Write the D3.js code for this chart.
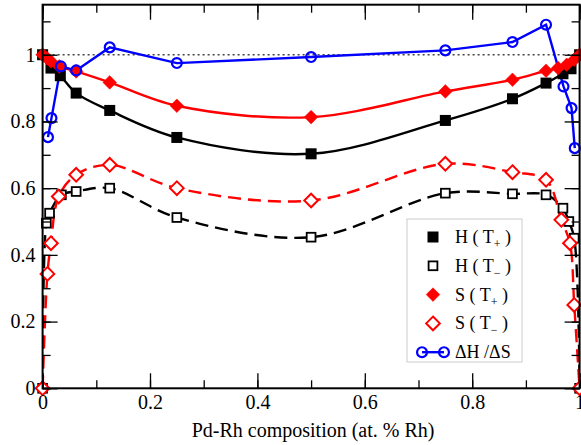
<!DOCTYPE html>
<html>
<head>
<meta charset="utf-8">
<script src="https://cdn.jsdelivr.net/npm/d3@7"></script>
<style>
  body { margin: 0; background: #fff; }
  svg { display: block; font-family: "Liberation Serif", "Times New Roman", serif; }
</style>
</head>
<body>
<div id="chart"></div>
<script>
// H(T+) : filled squares, solid black
const hPlusX = [0, 0.0156, 0.033, 0.0625, 0.125, 0.25, 0.5, 0.75, 0.875, 0.9375, 0.969, 0.984, 1];
const hPlusY = [1.0, 0.96, 0.937, 0.885, 0.833, 0.752, 0.703, 0.803, 0.868, 0.915, 0.943, 0.958, 1.0];

// H(T-) : open squares, dashed black
const hMinusX = [0, 0.007, 0.013, 0.035, 0.0625, 0.125, 0.25, 0.5, 0.75, 0.875, 0.9375, 0.969, 0.98, 0.99, 1];
const hMinusY = [0, 0.495, 0.525, 0.58, 0.59, 0.6, 0.512, 0.453, 0.585, 0.583, 0.58, 0.54, 0.5, 0.45, 0];

// S(T+) : filled diamonds, solid red
const sPlusX = [0, 0.008, 0.0156, 0.031, 0.0625, 0.125, 0.25, 0.5, 0.75, 0.875, 0.9375, 0.96, 0.976, 0.99, 1];
const sPlusY = [1.0, 0.99, 0.98, 0.965, 0.95, 0.917, 0.847, 0.813, 0.89, 0.925, 0.952, 0.96, 0.97, 0.985, 1.0];

// S(T-) : open diamonds, dashed red
const sMinusX = [0, 0.009, 0.0156, 0.03, 0.0625, 0.125, 0.25, 0.5, 0.75, 0.875, 0.9375, 0.966, 0.982, 0.99, 1];
const sMinusY = [0, 0.343, 0.435, 0.575, 0.64, 0.67, 0.6, 0.563, 0.673, 0.648, 0.625, 0.505, 0.435, 0.25, 0];

// dH/dS : open circles, solid blue
const ratioX = [0.01, 0.0165, 0.034, 0.0625, 0.125, 0.25, 0.5, 0.75, 0.875, 0.9375, 0.97, 0.985, 0.991];
const ratioY = [0.753, 0.81, 0.965, 0.953, 1.022, 0.975, 0.993, 1.013, 1.038, 1.09, 0.905, 0.84, 0.72];

const xTicks = [0, 0.2, 0.4, 0.6, 0.8, 1];
const yTicks = [0, 0.2, 0.4, 0.6, 0.8, 1];
const xLabel = "Pd-Rh composition (at. % Rh)";

const width = 581, height = 445;
const margin = {top: 4.7, right: 1.4, bottom: 56.7, left: 42.6};

const svg = d3.select("#chart").append("svg")
    .attr("width", width)
    .attr("height", height);

const x = d3.scaleLinear().domain([0, 1]).range([margin.left, width - margin.right]);
const y = d3.scaleLinear().domain([0, 1.15]).range([height - margin.bottom, margin.top]);

const zip = (xs, ys) => xs.map((v, i) => [v, ys[i]]);

const series = [
    {name: "hPlus", data: zip(hPlusX, hPlusY), color: "#000", dash: null, marker: "square", filled: true, curve: true},
    {name: "hMinus", data: zip(hMinusX, hMinusY), color: "#000", dash: "13,7", marker: "square", filled: false, curve: true},
    {name: "sPlus", data: zip(sPlusX, sPlusY), color: "#ff0000", dash: null, marker: "diamond", filled: true, curve: true},
    {name: "sMinus", data: zip(sMinusX, sMinusY), color: "#ff0000", dash: "13,7", marker: "diamond", filled: false, curve: true},
    {name: "ratio", data: zip(ratioX, ratioY), color: "#0000ff", dash: null, marker: "circle", filled: false, curve: false}
];

// reference line at 1
svg.append("line")
    .attr("x1", x(0)).attr("x2", x(1))
    .attr("y1", y(1)).attr("y2", y(1))
    .attr("stroke", "#444")
    .attr("stroke-width", 1.5)
    .attr("stroke-dasharray", "2,3");

svg.append("clipPath").attr("id", "clip")
    .append("rect")
    .attr("x", margin.left).attr("y", margin.top)
    .attr("width", width - margin.left - margin.right)
    .attr("height", height - margin.top - margin.bottom);

function drawMarker(g, type, filled, color, size) {
    const fill = filled ? color : "#fff";
    if (type === "square") {
        const s = filled ? size : size * 0.8;
        g.append("rect")
            .attr("x", -s / 2).attr("y", -s / 2)
            .attr("width", s).attr("height", s)
            .attr("fill", fill)
            .attr("stroke", color)
            .attr("stroke-width", filled ? 0 : 1.8);
    } else if (type === "diamond") {
        const s = size * 0.62;
        g.append("path")
            .attr("d", `M0,${-s}L${s},0L0,${s}L${-s},0Z`)
            .attr("fill", fill)
            .attr("stroke", color)
            .attr("stroke-width", filled ? 0.5 : 2);
    } else {
        g.append("circle")
            .attr("r", size * 0.45)
            .attr("fill", "none")
            .attr("stroke", color)
            .attr("stroke-width", 2.2);
    }
}

series.forEach(s => {
    const line = d3.line()
        .x(d => x(d[0]))
        .y(d => y(d[1]))
        .curve(s.curve ? d3.curveCatmullRom.alpha(0.5) : d3.curveLinear);

    svg.append("path")
        .datum(s.data)
        .attr("d", line)
        .attr("fill", "none")
        .attr("stroke", s.color)
        .attr("stroke-width", 2.4)
        .attr("stroke-dasharray", s.dash)
        .attr("clip-path", "url(#clip)");
});

series.forEach(s => {
    svg.append("g")
        .selectAll("g")
        .data(s.data)
        .enter().append("g")
        .attr("transform", d => `translate(${x(d[0])},${y(d[1])})`)
        .each(function() { drawMarker(d3.select(this), s.marker, s.filled, s.color, 11); });
});

// axes with inward ticks on all four sides
const plotH = height - margin.top - margin.bottom;
const plotW = width - margin.left - margin.right;
const minorX = d3.range(0, 1.01, 0.1);
const minorY = d3.range(0, 1.16, 0.1);

svg.append("g")
    .attr("transform", `translate(0,${height - margin.bottom})`)
    .call(d3.axisBottom(x).tickValues(minorX).tickSize(-8).tickFormat(""))
    .call(g => g.select(".domain").remove());
svg.append("g")
    .attr("transform", `translate(0,${height - margin.bottom})`)
    .call(d3.axisBottom(x).tickValues(xTicks).tickSize(-15).tickPadding(7).tickFormat(d3.format("~g")))
    .call(g => g.select(".domain").remove())
    .call(g => g.selectAll("text").attr("font-size", 20).attr("font-family", "Liberation Serif").attr("fill", "#000"));

svg.append("g")
    .attr("transform", `translate(0,${margin.top})`)
    .call(d3.axisTop(x).tickValues(minorX).tickSize(-8).tickFormat(""))
    .call(g => g.select(".domain").remove());
svg.append("g")
    .attr("transform", `translate(0,${margin.top})`)
    .call(d3.axisTop(x).tickValues(xTicks).tickSize(-15).tickFormat(""))
    .call(g => g.select(".domain").remove());

svg.append("g")
    .attr("transform", `translate(${margin.left},0)`)
    .call(d3.axisLeft(y).tickValues(minorY).tickSize(-8).tickFormat(""))
    .call(g => g.select(".domain").remove());
svg.append("g")
    .attr("transform", `translate(${margin.left},0)`)
    .call(d3.axisLeft(y).tickValues(yTicks).tickSize(-15).tickPadding(7).tickFormat(d3.format("~g")))
    .call(g => g.select(".domain").remove())
    .call(g => g.selectAll("text").attr("font-size", 20).attr("font-family", "Liberation Serif").attr("fill", "#000"));

svg.append("g")
    .attr("transform", `translate(${width - margin.right},0)`)
    .call(d3.axisRight(y).tickValues(minorY).tickSize(-8).tickFormat(""))
    .call(g => g.select(".domain").remove());
svg.append("g")
    .attr("transform", `translate(${width - margin.right},0)`)
    .call(d3.axisRight(y).tickValues(yTicks).tickSize(-15).tickFormat(""))
    .call(g => g.select(".domain").remove());

svg.selectAll(".tick line").attr("stroke", "#000").attr("stroke-width", 1.3);

// frame
svg.append("rect")
    .attr("x", margin.left).attr("y", margin.top)
    .attr("width", plotW).attr("height", plotH)
    .attr("fill", "none")
    .attr("stroke", "#000")
    .attr("stroke-width", 2);

svg.append("text")
    .attr("x", (margin.left + width - margin.right) / 2 + 2)
    .attr("y", 437)
    .attr("text-anchor", "middle")
    .attr("font-size", 20)
    .text(xLabel);

// Legend
const legendItems = [
    {label: "H", sub: "+", s: series[0]},
    {label: "H", sub: "\u2212", s: series[1]},
    {label: "S", sub: "+", s: series[2]},
    {label: "S", sub: "\u2212", s: series[3]},
    {label: "\u0394H /\u0394S", sub: null, s: series[4]}
];

const legend = svg.append("g");
legend.append("rect")
    .attr("x", 407).attr("y", 219)
    .attr("width", 115).attr("height", 143)
    .attr("fill", "#fff")
    .attr("stroke", "#ccc")
    .attr("stroke-width", 1);

legendItems.forEach((item, i) => {
    const cy = 237 + i * 28.8;
    if (item.s.marker === "circle") {
        legend.append("line")
            .attr("x1", 422).attr("x2", 444)
            .attr("y1", cy).attr("y2", cy)
            .attr("stroke", item.s.color).attr("stroke-width", 2.4);
        [422, 444].forEach(cx => {
            const g = legend.append("g").attr("transform", `translate(${cx},${cy})`);
            drawMarker(g, "circle", false, item.s.color, 11);
        });
    } else {
        const g = legend.append("g").attr("transform", `translate(433,${cy})`);
        drawMarker(g, item.s.marker, item.s.filled, item.s.color, 11);
    }
    const t = legend.append("text")
        .attr("x", 455).attr("y", cy + 6)
        .attr("font-size", 18);
    if (item.sub) {
        t.append("tspan").text(item.label + " ( T");
        t.append("tspan").attr("font-size", 12).attr("dy", 5).text(item.sub);
        t.append("tspan").attr("dy", -5).text(" )");
    } else {
        t.text(item.label);
    }
});
</script>
</body>
</html>
